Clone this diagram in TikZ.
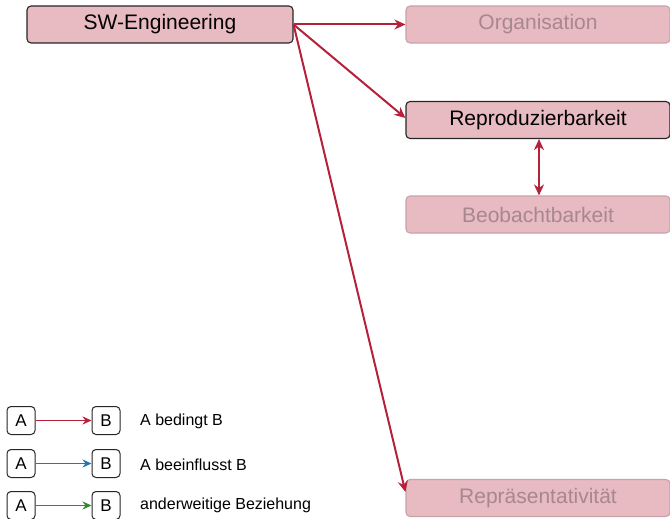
\documentclass[tikz,border=0pt]{standalone}
\usepackage{fontspec}
\setmainfont{Liberation Sans}
\usetikzlibrary{arrows.meta}
\definecolor{boxfill}{HTML}{E8BAC1}
\definecolor{fadeline}{HTML}{C9A2AA}
\definecolor{fadetext}{HTML}{A6888E}
\definecolor{redarr}{HTML}{B5203A}
\definecolor{bluearr}{HTML}{1F77B4}
\definecolor{greenarr}{HTML}{2E8B2E}
\tikzset{
  mainbox/.style={draw=black!85, fill=boxfill, rounded corners=4pt, line width=1.1pt,
    minimum width=264pt, minimum height=37pt, inner sep=0pt,
    font=\fontsize{21}{25}\selectfont, text=black},
  fadebox/.style={mainbox, draw=fadeline, text=fadetext},
  legbox/.style={draw=black!85, fill=white, rounded corners=4pt, line width=1pt,
    minimum width=28pt, minimum height=28pt, inner sep=0pt,
    font=\fontsize{17}{20}\selectfont},
  legtext/.style={anchor=west, font=\fontsize{16}{19}\selectfont, inner sep=0pt},
  arr/.style={line width=2pt, -{Stealth[length=11pt,width=10pt,inset=3.5pt]}},
  larr/.style={line width=1.5pt, -{Stealth[length=9pt,width=8pt,inset=3pt]}},
  darr/.style={line width=2pt, {Stealth[length=11pt,width=10pt,inset=3.5pt]}-{Stealth[length=11pt,width=10pt,inset=3.5pt]}},
}
\begin{document}
\begin{tikzpicture}[x=1pt,y=-1pt]
\useasboundingbox (0,0) rectangle (670,519);
\clip (0,0) rectangle (670,519);
\node[mainbox, minimum width=266pt] (sw) at (160,24.5) {SW-Engineering};
\node[fadebox] (org) at (538,24.5) {Organisation};
\node[mainbox] (repro) at (538,120) {Reproduzierbarkeit};
\node[fadebox] (beob) at (538,214.5) {Beobachtbarkeit};
\node[fadebox] (repr) at (538,498) {Repräsentativität};
\draw[arr, redarr] (sw.east) -- (org.west);
\draw[arr, redarr] (sw.east) -- ([yshift=2pt]repro.west);
\draw[arr, redarr] (sw.east) -- ([yshift=6pt]repr.west);
\draw[darr, redarr] ([xshift=1pt]repro.south) -- ([xshift=1pt]beob.north);
% legend
\node[legbox] (a1) at (21,420.5) {A};
\node[legbox] (b1) at (106,420.5) {B};
\node[legbox] (a2) at (21,463.5) {A};
\node[legbox] (b2) at (106,463.5) {B};
\node[legbox] (a3) at (21,505.5) {A};
\node[legbox] (b3) at (106,505.5) {B};
\draw[larr, redarr] (a1) -- (b1);
\draw[larr, bluearr] (a2) -- (b2);
\draw[larr, greenarr] (a3) -- (b3);
\node[legtext] (t1) at (140,421) {A bedingt B};
\node[legtext] (t2) at (140,465) {A beeinflusst B};
\node[legtext] (t3) at (140,505) {anderweitige Beziehung};
\end{tikzpicture}
\end{document}
